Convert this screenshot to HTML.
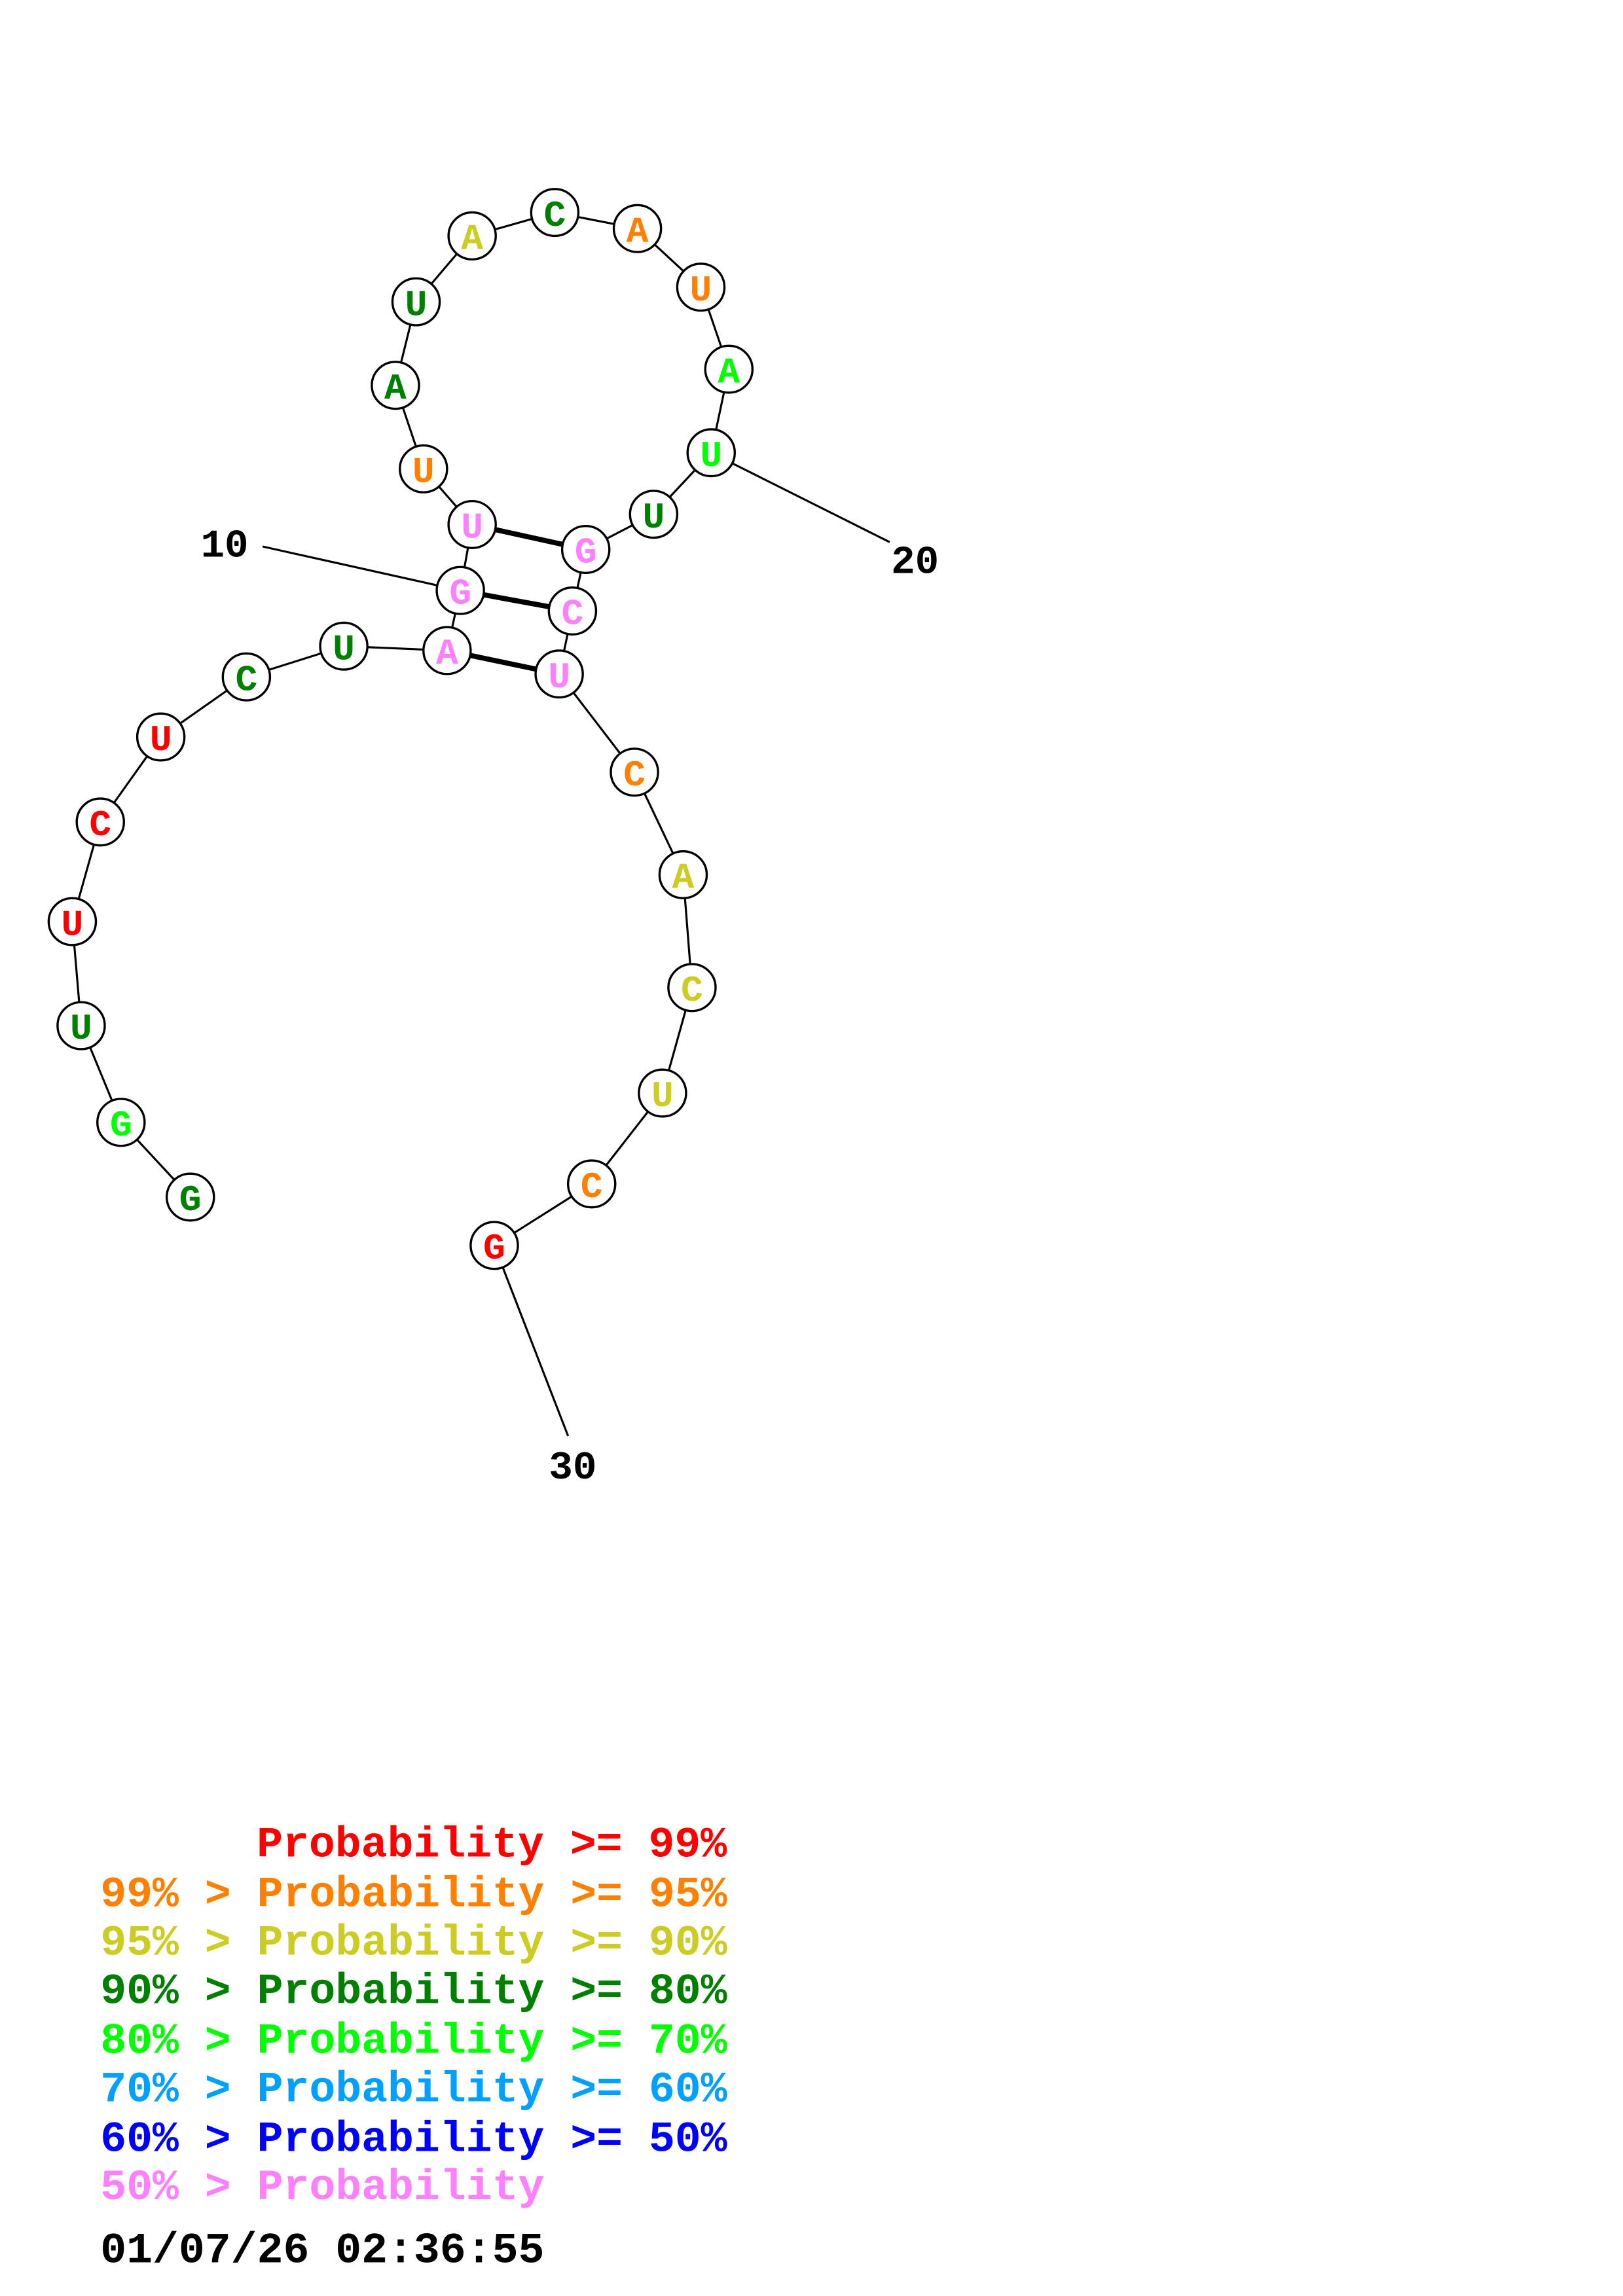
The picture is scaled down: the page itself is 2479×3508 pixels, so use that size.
<!DOCTYPE html>
<html><head><meta charset="utf-8"><style>html,body{margin:0;padding:0;background:#fff}svg{display:block}</style></head>
<body>
<svg width="2479" height="3508" viewBox="0 0 1100 1567" preserveAspectRatio="none" xmlns="http://www.w3.org/2000/svg" font-family="'Liberation Mono', monospace" font-weight="bold">
<g stroke="#000" stroke-width="1.4" fill="none">
<polyline points="129,817 82,766 55,700 49,629 68,561 109,503 167,462 233,441 303,444 312,403 320,358 287,320 268,263 282,206 320,161 376,145 432,156 475,196 494,252 482,309 443,351 397,375 388,417 379,460 430,527 463,597 469,674 449,746 401,808 335,850"/>
<line x1="312" y1="403" x2="178" y2="373"/>
<line x1="482" y1="309" x2="603" y2="370"/>
<line x1="335" y1="850" x2="385" y2="980"/>
</g>
<g stroke="#000" stroke-width="3.5">
<line x1="303" y1="444" x2="379" y2="460"/>
<line x1="312" y1="403" x2="388" y2="417"/>
<line x1="320" y1="358" x2="397" y2="375"/>
</g>
<g stroke="#000" stroke-width="1.5" fill="#fff">
<circle cx="129" cy="817" r="16"/><circle cx="82" cy="766" r="16"/><circle cx="55" cy="700" r="16"/><circle cx="49" cy="629" r="16"/><circle cx="68" cy="561" r="16"/><circle cx="109" cy="503" r="16"/><circle cx="167" cy="462" r="16"/><circle cx="233" cy="441" r="16"/><circle cx="303" cy="444" r="16"/><circle cx="312" cy="403" r="16"/><circle cx="320" cy="358" r="16"/><circle cx="287" cy="320" r="16"/><circle cx="268" cy="263" r="16"/><circle cx="282" cy="206" r="16"/><circle cx="320" cy="161" r="16"/><circle cx="376" cy="145" r="16"/><circle cx="432" cy="156" r="16"/><circle cx="475" cy="196" r="16"/><circle cx="494" cy="252" r="16"/><circle cx="482" cy="309" r="16"/><circle cx="443" cy="351" r="16"/><circle cx="397" cy="375" r="16"/><circle cx="388" cy="417" r="16"/><circle cx="379" cy="460" r="16"/><circle cx="430" cy="527" r="16"/><circle cx="463" cy="597" r="16"/><circle cx="469" cy="674" r="16"/><circle cx="449" cy="746" r="16"/><circle cx="401" cy="808" r="16"/><circle cx="335" cy="850" r="16"/>
</g>
<g font-size="25" text-anchor="middle">
<text x="129" y="826" fill="#008000">G</text><text x="82" y="775" fill="#00ff00">G</text><text x="55" y="709" fill="#008000">U</text><text x="49" y="638" fill="#ff0000">U</text><text x="68" y="570" fill="#ff0000">C</text><text x="109" y="512" fill="#ff0000">U</text><text x="167" y="471" fill="#008000">C</text><text x="233" y="450" fill="#008000">U</text><text x="303" y="453" fill="#ff80ff">A</text><text x="312" y="412" fill="#ff80ff">G</text><text x="320" y="367" fill="#ff80ff">U</text><text x="287" y="329" fill="#ff8000">U</text><text x="268" y="272" fill="#008000">A</text><text x="282" y="215" fill="#008000">U</text><text x="320" y="170" fill="#cccc22">A</text><text x="376" y="154" fill="#008000">C</text><text x="432" y="165" fill="#ff8000">A</text><text x="475" y="205" fill="#ff8000">U</text><text x="494" y="261" fill="#00ff00">A</text><text x="482" y="318" fill="#00ff00">U</text><text x="443" y="360" fill="#008000">U</text><text x="397" y="384" fill="#ff80ff">G</text><text x="388" y="426" fill="#ff80ff">C</text><text x="379" y="469" fill="#ff80ff">U</text><text x="430" y="536" fill="#ff8000">C</text><text x="463" y="606" fill="#cccc22">A</text><text x="469" y="683" fill="#cccc22">C</text><text x="449" y="755" fill="#cccc22">U</text><text x="401" y="817" fill="#ff8000">C</text><text x="335" y="859" fill="#ff0000">G</text>
</g>
<g font-size="27" fill="#000">
<text x="136" y="380">10</text><text x="604" y="391">20</text><text x="372" y="1009">30</text>
</g>
<g font-size="29.5" style="white-space:pre">
<text x="174" y="1267" fill="#ff0000">Probability &gt;= 99%</text>
<text x="68" y="1301" fill="#ff8000">99% &gt; Probability &gt;= 95%</text>
<text x="68" y="1334" fill="#cccc22">95% &gt; Probability &gt;= 90%</text>
<text x="68" y="1367" fill="#008000">90% &gt; Probability &gt;= 80%</text>
<text x="68" y="1401" fill="#00ff00">80% &gt; Probability &gt;= 70%</text>
<text x="68" y="1434" fill="#00a0ff">70% &gt; Probability &gt;= 60%</text>
<text x="68" y="1468" fill="#0000ff">60% &gt; Probability &gt;= 50%</text>
<text x="68" y="1501" fill="#ff80ff">50% &gt; Probability</text>
<text x="68" y="1544" fill="#000">01/07/26 02:36:55</text>
</g>
</svg>
</body></html>
